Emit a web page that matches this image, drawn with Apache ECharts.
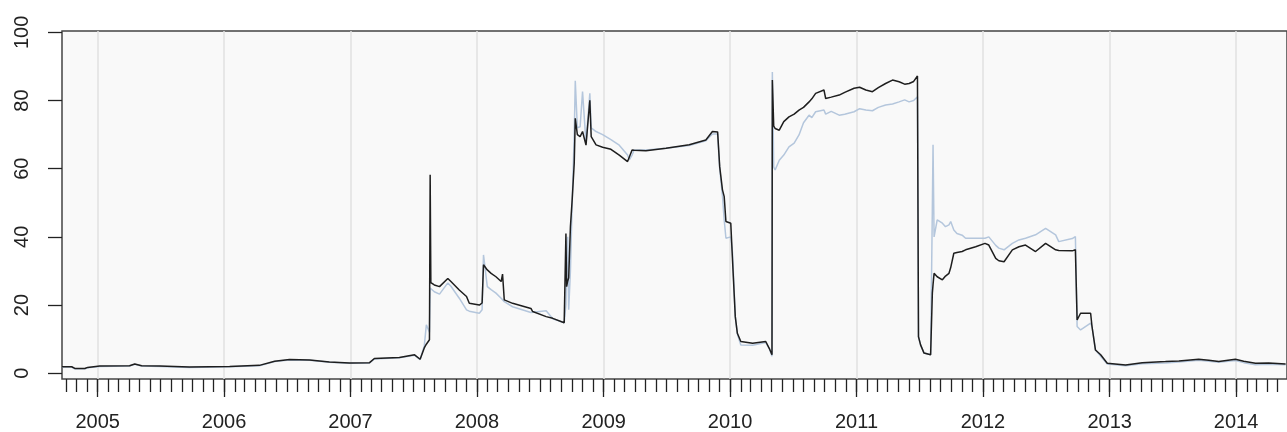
<!DOCTYPE html>
<html>
<head>
<meta charset="utf-8">
<script src="https://cdn.jsdelivr.net/npm/echarts@6/dist/echarts.min.js"></script>
<style>
  html, body { margin: 0; padding: 0; background: #ffffff; }
  #main { width: 1287px; height: 432px; }
</style>
</head>
<body>
<div id="main"></div>
<script>
// data
var dates = [
  "2004-09-20","2004-10-18","2004-10-27","2004-11-25","2004-12-03","2005-01-07","2005-04-03","2005-04-18",
  "2005-05-08","2005-06-29","2005-09-23","2006-01-17","2006-04-13","2006-05-27","2006-07-09","2006-09-05",
  "2006-11-01","2006-12-29","2007-02-25","2007-03-11","2007-05-22","2007-07-05","2007-07-21","2007-08-02",
  "2007-08-08","2007-08-17","2007-08-19","2007-08-21","2007-08-31","2007-09-15","2007-10-09","2007-10-18",
  "2007-11-11","2007-12-02","2007-12-10","2008-01-08","2008-01-16","2008-01-20","2008-01-31","2008-02-11",
  "2008-02-25","2008-03-11","2008-03-15","2008-03-20","2008-04-13","2008-06-05","2008-06-10","2008-07-19",
  "2008-08-07","2008-09-09","2008-09-14","2008-09-16","2008-09-19","2008-09-22","2008-09-27","2008-10-02",
  "2008-10-08","2008-10-11","2008-10-17","2008-10-25","2008-11-01","2008-11-11","2008-11-22","2008-11-26",
  "2008-12-10","2008-12-29","2009-01-22","2009-02-15","2009-03-11","2009-03-16","2009-03-24","2009-03-30",
  "2009-05-03","2009-06-30","2009-09-05","2009-10-23","2009-11-11","2009-11-26","2009-12-02","2009-12-10",
  "2009-12-15","2009-12-20","2010-01-03","2010-01-08","2010-01-16","2010-01-22","2010-02-01","2010-03-07",
  "2010-04-14","2010-04-24","2010-05-02","2010-05-03","2010-05-07","2010-05-11","2010-05-23","2010-06-05",
  "2010-06-20","2010-07-05","2010-07-19","2010-08-01","2010-08-17","2010-08-25","2010-09-05","2010-09-29",
  "2010-10-04","2010-10-20","2010-11-12","2010-11-28","2010-12-25","2011-01-10","2011-01-28","2011-02-16",
  "2011-03-05","2011-03-26","2011-04-15","2011-05-04","2011-05-20","2011-06-02","2011-06-15","2011-06-26",
  "2011-06-29","2011-07-05","2011-07-15","2011-08-03","2011-08-08","2011-08-10","2011-08-13","2011-08-22",
  "2011-09-06","2011-09-15","2011-09-25","2011-09-30","2011-10-09","2011-10-18","2011-11-02","2011-11-12",
  "2011-12-11","2012-01-07","2012-01-18","2012-02-07","2012-02-16","2012-03-02","2012-03-26","2012-04-14",
  "2012-05-03","2012-06-01","2012-06-30","2012-07-29","2012-08-07","2012-09-15","2012-09-24","2012-09-29",
  "2012-10-09","2012-11-07","2012-11-11","2012-11-21","2012-12-06","2012-12-25","2013-02-16","2013-04-05",
  "2013-06-11","2013-07-20","2013-09-15","2013-10-14","2013-11-12","2013-12-30","2014-01-23","2014-02-26",
  "2014-04-05","2014-05-24"
];

var blackvals = [
  1.9,1.9,1.4,1.4,1.7,2.1,2.2,2.7,
  2.2,2.1,1.8,2.0,2.3,3.5,4.0,3.9,
  3.3,3.0,3.1,4.3,4.6,5.4,4.1,7.4,
  8.5,9.8,58.2,26.6,25.9,25.4,27.8,26.9,
  24.4,22.5,20.5,20.0,20.6,31.8,30.3,29.3,
  28.3,26.9,29.1,21.5,20.5,19.0,18.1,16.6,
  16.1,14.8,41.0,25.4,27.0,28.0,43.0,50.8,
  61.6,74.8,70.0,69.4,70.9,66.9,80.1,69.4,
  67.0,66.3,65.7,64.0,62.1,62.5,65.5,65.4,
  65.3,66.0,67.0,68.4,70.9,70.8,60.6,53.8,
  51.8,44.5,44.0,33.2,16.6,11.7,9.3,8.8,
  9.3,7.3,5.4,86.0,72.5,71.8,71.3,73.8,
  75.2,76.0,77.2,78.0,79.6,80.5,82.1,83.1,
  80.6,81.0,81.6,82.4,83.6,83.9,83.1,82.6,
  83.8,85.0,86.0,85.5,84.8,85.0,85.6,87.2,
  10.7,8.3,5.9,5.4,23.5,26.0,29.3,28.3,
  27.4,28.5,29.3,31.0,35.2,35.4,35.7,36.2,
  37.1,38.1,37.6,33.7,33.0,32.7,36.2,37.1,
  37.6,35.7,38.1,36.2,36.0,35.9,36.2,15.6,
  17.6,17.6,13.7,6.8,5.4,2.9,2.4,3.1,
  3.4,3.6,4.1,3.8,3.4,4.1,3.5,2.9,
  3.0,2.7
];

var bluevals = [
  1.8,1.8,1.3,1.3,1.6,2.0,2.1,2.6,
  2.1,2.0,1.7,1.9,2.2,3.4,3.9,3.8,
  3.2,2.9,3.0,4.2,4.5,5.3,4.0,8.0,
  14.2,12.0,25.0,24.5,23.9,23.2,26.5,25.5,
  22.0,18.6,18.2,17.6,18.6,34.7,25.4,24.5,
  23.5,22.0,21.5,21.0,19.5,17.8,17.6,18.3,
  16.0,14.8,20.0,30.0,40.0,18.6,30.0,50.0,
  70.0,85.8,72.0,72.3,82.6,67.5,82.1,72.0,
  70.9,70.0,68.5,66.9,64.0,62.6,64.0,65.5,
  65.5,66.0,66.8,68.2,70.2,70.2,60.0,52.0,
  45.0,39.6,40.0,35.3,16.6,11.5,8.3,8.2,
  9.0,7.3,5.0,88.4,60.5,59.6,62.5,64.0,
  66.4,67.5,69.9,73.5,75.7,75.0,76.7,77.2,
  76.0,76.8,75.7,76.0,76.7,77.6,77.2,77.0,
  78.0,78.7,79.0,79.6,80.2,79.6,80.0,81.1,
  10.7,8.3,5.9,5.4,48.4,67.0,40.0,45.0,
  44.0,43.0,43.5,44.5,42.0,41.0,40.5,39.6,
  39.6,39.6,40.0,37.5,36.7,36.2,38.1,39.1,
  39.6,40.6,42.5,40.6,38.6,39.5,40.1,13.7,
  12.7,14.7,13.7,6.8,5.0,2.7,2.2,2.8,
  3.0,3.3,3.8,3.5,3.2,3.7,3.1,2.5,
  2.6,2.5
];

var yearlabels = ["2005","2006","2007","2008","2009","2010","2011","2012","2013","2014"];
var yticks = [0, 20, 40, 60, 80, 100];

var xstart = "2004-09-20";
var xend = "2014-05-28";

// dates -> milliseconds (value axis, so ticks can be placed by hand)
function tms(s) {
  var p = s.split("-");
  return new Date(+p[0], +p[1] - 1, +p[2]).getTime();
}

// tick positions: one per month, longer ones at each year
var yearticks = [];
for (i = 0; i < yearlabels.length; i++) {
  yearticks.push(new Date(+yearlabels[i], 0, 1).getTime());
}
var monthticks = [];
for (y = 2004; y <= 2014; y++) {
  for (m = 0; m < 12; m++) {
    monthticks.push(new Date(y, m, 1).getTime());
  }
}

var blackdata = [];
var bluedata = [];
for (i = 0; i < dates.length; i++) {
  blackdata.push([tms(dates[i]), blackvals[i]]);
  bluedata.push([tms(dates[i]), bluevals[i]]);
}

var labelfont = {
  color: "#222",
  fontSize: 20,
  fontFamily: "Liberation Sans, Arial, sans-serif"
};

var option = {
  animation: false,
  grid: {
    left: 62,
    top: 31,
    right: -1,
    bottom: 53,
    show: true,
    backgroundColor: "#f9f9f9",
    borderColor: "#444",
    borderWidth: 1.5
  },
  xAxis: [
    {
      type: "value",
      min: tms(xstart),
      max: tms(xend),
      axisLine: { show: false, onZero: false },
      axisTick: {
        show: true,
        customValues: monthticks,
        length: 13,
        lineStyle: { color: "#222", width: 1.3 }
      },
      axisLabel: { show: false },
      splitLine: { show: false }
    },
    {
      type: "value",
      min: tms(xstart),
      max: tms(xend),
      position: "bottom",
      axisLine: { show: false, onZero: false },
      axisTick: {
        show: true,
        customValues: yearticks,
        length: 18,
        lineStyle: { color: "#222", width: 1.3 }
      },
      axisLabel: Object.assign({
        customValues: yearticks,
        margin: 33,
        formatter: function (v) { return String(new Date(v).getFullYear()); }
      }, labelfont),
      splitLine: {
        show: true,
        lineStyle: { color: "#e0e0e0", width: 1.5 }
      }
    }
  ],
  yAxis: {
    type: "value",
    min: -1.7,
    max: 100.4,
    axisLine: { show: false, onZero: false },
    axisTick: {
      show: true,
      customValues: yticks,
      length: 14,
      lineStyle: { color: "#222", width: 1.3 }
    },
    axisLabel: Object.assign({
      customValues: yticks,
      rotate: 90,
      margin: 30
    }, labelfont),
    splitLine: { show: false }
  },
  series: [
    {
      name: "blue",
      type: "line",
      xAxisIndex: 0,
      data: bluedata,
      showSymbol: false,
      symbol: "none",
      silent: true,
      lineStyle: { color: "#b4c6dc", width: 1.5 }
    },
    {
      name: "black",
      type: "line",
      xAxisIndex: 0,
      data: blackdata,
      showSymbol: false,
      symbol: "none",
      silent: true,
      lineStyle: { color: "#1e1e1e", width: 1.5 }
    }
  ]
};

var myChart = echarts.init(document.getElementById("main"));
myChart.setOption(option);
</script>
</body>
</html>
